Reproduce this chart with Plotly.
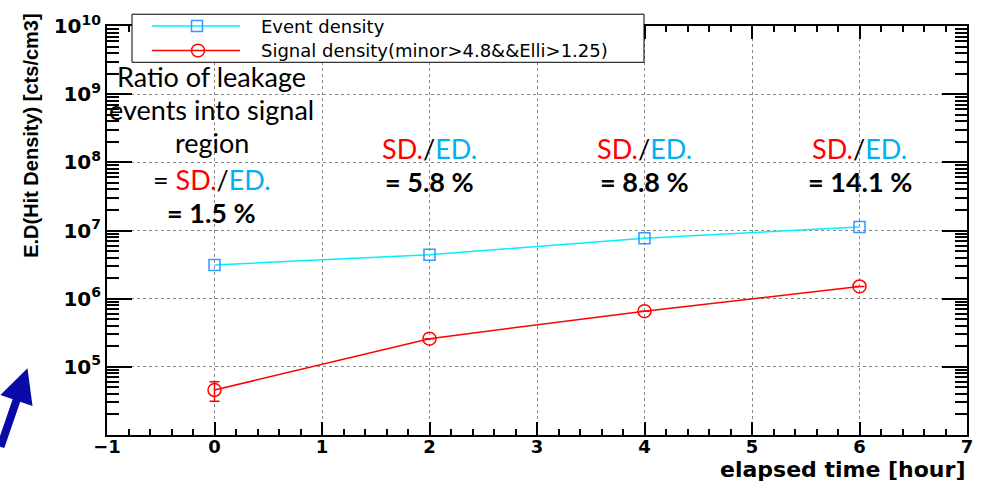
import plotly.graph_objects as go

# ---------------- data ----------------
hours = [0, 2, 4, 6]
event_density = [3.13e6, 4.41e6, 7.67e6, 1.13e7]
signal_density = [4.57e4, 2.59e5, 6.56e5, 1.51e6]
signal_err = [1.45e4, None, None, None]
ratio_labels = ["1.5 %", "5.8 %", "8.8 %", "14.1 %"]

x_range = [-1, 7]
y_range_log = [4, 10]
y_tickvals = [1e5, 1e6, 1e7, 1e8, 1e9, 1e10]
y_ticktext = ["10<sup>5</sup>", "10<sup>6</sup>", "10<sup>7</sup>",
              "10<sup>8</sup>", "10<sup>9</sup>", "10<sup>10</sup>"]
y_minor = [m * 10 ** e for e in range(4, 10) for m in range(2, 10)]

legend_names = ["Event density", "Signal density(minor>4.8&&Elli>1.25)"]

# ---------------- layout geometry ----------------
W, H = 992, 484
ML, MR, MT, MB = 107, 25, 18, 49
PW, PH = W - ML - MR, H - MT - MB


def px(x):
    return (x - ML) / PW


def py(y):
    return (H - MB - y) / PH


RED = "#ff0000"
CYAN = "#00f0ff"
MBLUE = "#3399ff"
EDBLUE = "#00b0f0"

fig = go.Figure()

fig.add_trace(go.Scatter(
    x=hours, y=event_density, mode="lines+markers", name=legend_names[0],
    line=dict(color=CYAN, width=1.5),
    marker=dict(symbol="square-open", size=11, color=MBLUE, line=dict(width=1.5)),
    showlegend=False,
))
fig.add_trace(go.Scatter(
    x=hours, y=signal_density, mode="lines+markers", name=legend_names[1],
    line=dict(color=RED, width=1.5),
    marker=dict(symbol="circle-open", size=13, color=RED, line=dict(width=1.5)),
    error_y=dict(type="data", array=signal_err, visible=True, color=RED,
                 thickness=1.5, width=5),
    showlegend=False,
))

# ---------------- manual ROOT-style legend ----------------
shapes = [
    dict(type="rect", xref="paper", yref="paper",
         x0=px(132), x1=px(644), y0=py(55), y1=py(6),
         fillcolor="white", line=dict(color="black", width=1)),
    dict(type="line", xref="paper", yref="paper",
         x0=px(152), x1=px(240), y0=py(18), y1=py(18),
         line=dict(color=CYAN, width=1.5)),
    dict(type="rect", xref="paper", yref="paper",
         x0=px(191.5), x1=px(202.5), y0=py(23.5), y1=py(12.5),
         line=dict(color=MBLUE, width=1.5)),
    dict(type="line", xref="paper", yref="paper",
         x0=px(152), x1=px(240), y0=py(43), y1=py(43),
         line=dict(color=RED, width=1.5)),
    dict(type="circle", xref="paper", yref="paper",
         x0=px(191.5), x1=px(204.5), y0=py(49.5), y1=py(36.5),
         line=dict(color=RED, width=1.5)),
]

annotations = []
legend_font = dict(family="DejaVu Sans", size=18, color="black")
for name, yy in zip(legend_names, [18, 43]):
    annotations.append(dict(xref="paper", yref="paper", x=px(259), y=py(yy),
                            text=name, showarrow=False, xanchor="left",
                            yanchor="middle", font=legend_font))

# ---------------- text blocks ----------------
cal = dict(family="Lato", size=27, color="black")
sd_ed = ("<span style='color:%s'>SD.</span>/<span style='color:%s'>ED.</span>"
         % (RED, EDBLUE))

left_lines = [
    ("Ratio of leakage", 69),
    ("events into signal", 103),
    ("region", 137),
    ("= " + sd_ed, 175),
    ("<b>= %s</b>" % ratio_labels[0], 208),
]
for txt, yy in left_lines:
    annotations.append(dict(xref="x", yref="paper", x=hours[0], xshift=-3,
                            y=py(yy), text=txt, showarrow=False,
                            xanchor="center", yanchor="middle", font=cal))

for h, lab in zip(hours[1:], ratio_labels[1:]):
    annotations.append(dict(xref="x", yref="paper", x=h, y=py(143),
                            text=sd_ed, showarrow=False, xanchor="center",
                            yanchor="middle", font=cal))
    annotations.append(dict(xref="x", yref="paper", x=h, y=py(177),
                            text="<b>= %s</b>" % lab, showarrow=False,
                            xanchor="center", yanchor="middle", font=cal))

# axis titles (ROOT style: at the axis ends)
annotations.append(dict(xref="paper", yref="paper", x=px(31), y=py(130),
                        text="E.D(Hit Density) [cts/cm3]", textangle=-90,
                        showarrow=False, xanchor="center", yanchor="middle",
                        font=dict(family="Liberation Sans", size=20,
                                  color="black", weight="bold")))
annotations.append(dict(xref="paper", yref="paper", x=1.0, y=py(470.5),
                        text="elapsed time [hour]", showarrow=False,
                        xanchor="right", yanchor="middle",
                        font=dict(family="DejaVu Sans", size=22,
                                  color="black", weight="bold")))

# blue arrow
annotations.append(dict(xref="paper", yref="paper", x=px(27.5), y=py(367),
                        ax=-42, ay=80, text="", showarrow=True,
                        arrowhead=2, arrowsize=0.85, arrowwidth=8,
                        arrowcolor="#0a0aa8"))

tickfont = dict(family="DejaVu Sans", size=18, color="black", weight="bold")

fig.update_layout(
    width=W, height=H,
    margin=dict(l=ML, r=MR, t=MT, b=MB, pad=0),
    paper_bgcolor="white", plot_bgcolor="white",
    showlegend=False,
    shapes=shapes, annotations=annotations,
    xaxis=dict(
        range=x_range, dtick=1, tick0=0,
        showline=True, linecolor="black", linewidth=2, mirror="allticks",
        ticks="inside", ticklen=13, tickwidth=1.5, tickcolor="black",
        minor=dict(dtick=0.2, ticks="inside", ticklen=6, tickwidth=1.5,
                   tickcolor="black", showgrid=False),
        showgrid=True, gridcolor="#888888", griddash="dot", gridwidth=1,
        zeroline=False, tickfont=tickfont, ticklabelstandoff=-6,
    ),
    yaxis=dict(
        type="log", range=y_range_log,
        tickmode="array", tickvals=y_tickvals, ticktext=y_ticktext,
        showline=True, linecolor="black", linewidth=2, mirror="allticks",
        ticks="inside", ticklen=25, tickwidth=1.5, tickcolor="black",
        minor=dict(tickvals=y_minor, ticks="inside", ticklen=12,
                   tickwidth=1.5, tickcolor="black", showgrid=False),
        showgrid=True, gridcolor="#888888", griddash="dot", gridwidth=1,
        zeroline=False, tickfont=dict(family="DejaVu Sans", size=20,
                                      color="black", weight="bold"),
    ),
)

fig.write_html(
    "out.html",
    config={"displayModeBar": False},
    post_script="document.body.style.margin='0';document.body.style.overflow='hidden';",
)
